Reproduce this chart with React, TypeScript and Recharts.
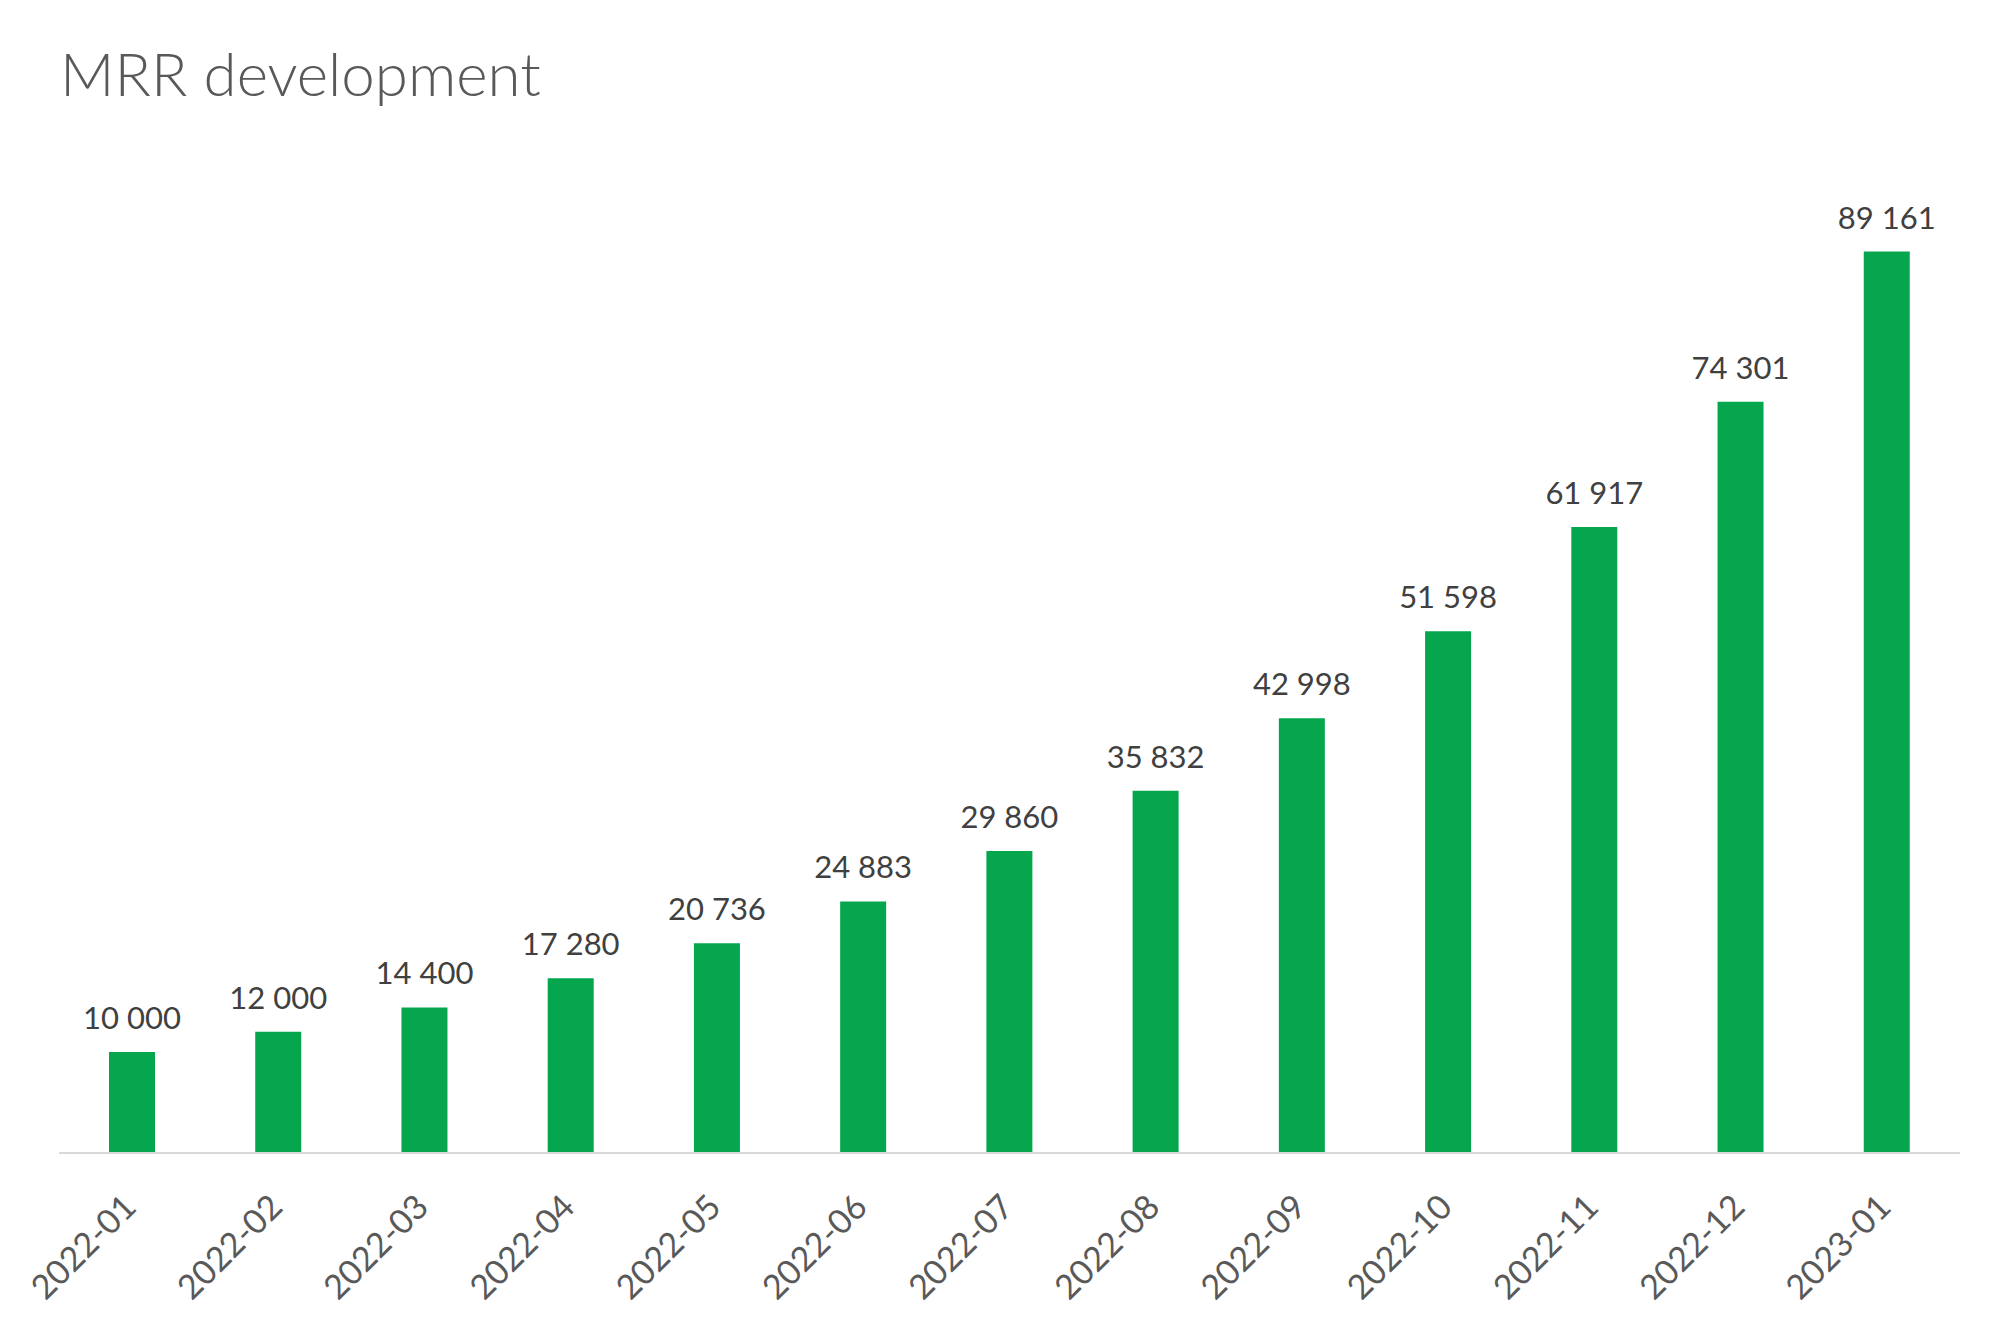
import React from 'react';
import { BarChart, Bar, XAxis, YAxis, LabelList } from 'recharts';

const categories = ['2022-01', '2022-02', '2022-03', '2022-04', '2022-05', '2022-06', '2022-07', '2022-08', '2022-09', '2022-10', '2022-11', '2022-12', '2023-01'];
const mrrValues = [10000, 12000, 14400, 17280, 20736, 24883, 29860, 35832, 42998, 51598, 61917, 74301, 89161];
const yDomain = [0, 100000];
const title = 'MRR development';

const data = categories.map((month, i) => ({ month, mrr: mrrValues[i] }));

const FONT = 'Lato, "Noto Sans", sans-serif';

const fmt = (v: number) => String(v).replace(/\B(?=(\d{3})+(?!\d))/g, ' ');

const CustomTick = (props: any) => {
  const { x, y, payload } = props;
  const px = x + 6;
  const py = y + 56;
  return (
    <text
      x={px}
      y={py}
      textAnchor="end"
      transform={`rotate(-45, ${px}, ${py})`}
      fill="#595959"
      fontSize={34}
      fontFamily={FONT}
    >
      {payload.value}
    </text>
  );
};

const ValueLabel = (props: any) => {
  const { x, y, width, value } = props;
  return (
    <text
      x={x + width / 2}
      y={y - 23}
      textAnchor="middle"
      fill="#404040"
      fontSize={31}
      fontFamily={FONT}
    >
      {fmt(value)}
    </text>
  );
};

export default function App() {
  return (
    <div style={{ position: 'absolute', left: 0, top: 0, width: 2000, height: 1335, background: '#fff' }}>
      <svg width={2000} height={140} style={{ position: 'absolute', left: 0, top: 0 }}>
        <text x={60} y={96} fontSize={60} fontWeight={300} fontFamily={FONT} fill="#595959">
          {title}
        </text>
      </svg>
      <div style={{ position: 'absolute', left: 0, top: 0 }}>
        <BarChart width={2000} height={1335} data={data} margin={{ top: 142, right: 40, bottom: 152, left: 59 }}>
          <XAxis
            dataKey="month"
            height={30}
            interval={0}
            axisLine={{ stroke: '#D9D9D9', strokeWidth: 2 }}
            tickLine={false}
            tickSize={0}
            tickMargin={0}
            tick={<CustomTick />}
          />
          <YAxis hide domain={yDomain} />
          <Bar dataKey="mrr" fill="#05A64D" barSize={46} isAnimationActive={false}>
            <LabelList dataKey="mrr" content={<ValueLabel />} />
          </Bar>
        </BarChart>
      </div>
    </div>
  );
}
